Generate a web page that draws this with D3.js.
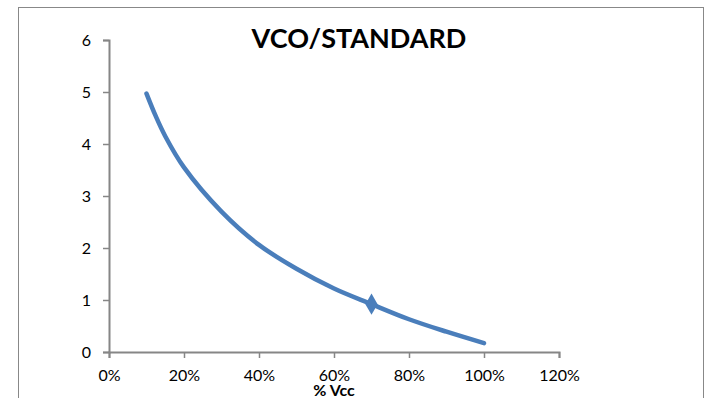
<!DOCTYPE html>
<html>
<head>
<meta charset="utf-8">
<script src="https://cdn.jsdelivr.net/npm/d3@7"></script>
<style>
  body { margin: 0; background: #fff; }
  text { font-family: Lato, "Open Sans", sans-serif; fill: #000; }
</style>
</head>
<body>
<div id="chart"></div>
<script>
// data
var vccPct = [0.1, 0.125, 0.15, 0.2, 0.3, 0.4, 0.5, 0.6, 0.7, 0.8, 0.9, 1.0];
var ratio = [4.97, 4.53, 4.15, 3.55, 2.70, 2.06, 1.60, 1.22, 0.92, 0.63, 0.39, 0.17];
var markerIdx = [8]; // only the 70% point shows a marker
var xTicks = [0, 0.2, 0.4, 0.6, 0.8, 1.0, 1.2];
var yTicks = [0, 1, 2, 3, 4, 5, 6];

var svgWidth = 709, svgHeight = 398;
var margin = { top: 40, left: 109, right: 150, bottom: 46 };
var width = svgWidth - margin.left - margin.right;   // 450
var height = svgHeight - margin.top - margin.bottom; // 312

var svg = d3.select("#chart").append("svg")
  .attr("width", svgWidth)
  .attr("height", svgHeight);

// outer chart frame
svg.append("rect")
  .attr("x", 18.5).attr("y", 7.5)
  .attr("width", 685).attr("height", 400)
  .attr("fill", "none").attr("stroke", "#888").attr("stroke-width", 1);

var g = svg.append("g").attr("transform", `translate(${margin.left},${margin.top})`);

var x = d3.scaleLinear().domain([0, 1.2]).range([0, width]);
var y = d3.scaleLinear().domain([0, 6]).range([height, 0]);

// axes
var xAxis = g.append("g")
  .attr("transform", `translate(0,${height})`)
  .call(d3.axisBottom(x).tickValues(xTicks).tickFormat(d3.format(".0%")).tickSize(6).tickPadding(12));
var yAxis = g.append("g")
  .call(d3.axisLeft(y).tickValues(yTicks).tickFormat(d3.format("d")).tickSize(6).tickPadding(12));

[xAxis, yAxis].forEach(function(a) {
  a.select(".domain").attr("stroke", "#868686").attr("stroke-width", 2);
  a.selectAll(".tick line").attr("stroke", "#868686").attr("stroke-width", 1.5);
  a.selectAll(".tick text").style("font-size", "16px").attr("fill", "#000");
});

// curve
var pts = vccPct.map(function(v, i) { return [v, ratio[i]]; });
var line = d3.line()
  .x(d => x(d[0]))
  .y(d => y(d[1]))
  .curve(d3.curveCatmullRom.alpha(0.5));

g.append("path")
  .datum(pts)
  .attr("fill", "none")
  .attr("stroke", "#4A7EBB")
  .attr("stroke-width", 4.5)
  .attr("stroke-linecap", "round")
  .attr("d", line);

g.selectAll(".marker")
  .data(markerIdx)
  .enter().append("path")
  .attr("class", "marker")
  .attr("transform", i => `translate(${x(vccPct[i])},${y(ratio[i])})`)
  .attr("d", d3.symbol().type(d3.symbolDiamond).size(130))
  .attr("fill", "#4A7EBB");

// title
svg.append("text")
  .attr("x", 359).attr("y", 48)
  .attr("text-anchor", "middle")
  .style("font-size", "27px").style("font-weight", "bold")
  .text("VCO/STANDARD");

// x axis title (overlaps the 60% label, as in the original)
svg.append("text")
  .attr("x", margin.left + x(0.6)).attr("y", 396)
  .attr("text-anchor", "middle")
  .style("font-size", "16px").style("font-weight", "bold")
  .text("% Vcc");
</script>
</body>
</html>
